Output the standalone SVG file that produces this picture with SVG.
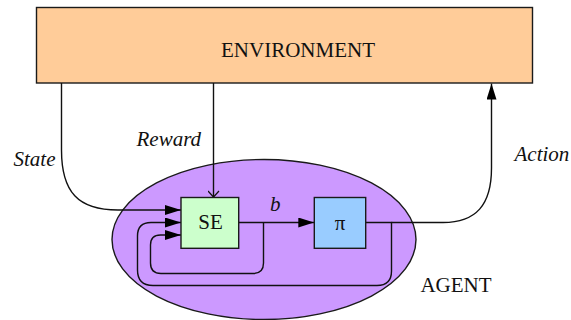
<svg xmlns="http://www.w3.org/2000/svg" width="571" height="320" viewBox="0 0 571 320">
<defs>
<style>
.node{stroke:#1a1a1a;stroke-width:1.4}
text{font-family:'Liberation Serif','Times New Roman',serif;font-size:21px;fill:#111}
.it{font-style:italic}
.edge{fill:none;stroke:#111;stroke-width:1.4}
</style>
<marker id="ah" markerUnits="userSpaceOnUse" viewBox="0 0 16 10" refX="16" refY="5" markerWidth="16" markerHeight="10" orient="auto">
<path d="M0,0 L16,5 L0,10 Z" fill="#000"/>
</marker>
<marker id="open" markerUnits="userSpaceOnUse" viewBox="0 0 8 12" refX="7" refY="6" markerWidth="8" markerHeight="12" orient="auto">
<path d="M1,0.5 L7,6 L1,11.5" fill="none" stroke="#111" stroke-width="1.2"/>
</marker>
</defs>
<rect width="571" height="320" fill="#fff"/>
<g id="agent">
<ellipse class="node" cx="264" cy="239.5" rx="152" ry="80" fill="#CC99FF"/>
<text x="456" y="292" text-anchor="middle">AGENT</text>
</g>
<g id="environment">
<rect class="node" x="36.5" y="7.5" width="496" height="75.5" fill="#FFCC99"/>
<text x="298" y="57" text-anchor="middle">ENVIRONMENT</text>
</g>
<g id="connectors">
<path class="edge" d="M61.5,83 V150 C61.5,192 78,210 118,210 H181" marker-end="url(#ah)"/>
<path class="edge" d="M213.5,83 V197" marker-end="url(#open)"/>
<path class="edge" d="M238.7,222.5 H314.3" marker-end="url(#ah)"/>
<path class="edge" d="M263.5,222.5 V263 Q263.5,273.5 253,273.5 H161 Q150.5,273.5 150.5,263 V245 Q150.5,235 160.5,235 H181" marker-end="url(#ah)"/>
<path class="edge" d="M365.7,222.5 H391.5 V271 Q391.5,285.5 377,285.5 H153 Q137.5,285.5 137.5,270 V236 Q137.5,222.5 151,222.5 H181" marker-end="url(#ah)"/>
<path class="edge" d="M391.5,222.5 H443 C476,222.5 491.5,205 491.5,168 V83.5" marker-end="url(#ah)"/>
<text class="it" x="13.5" y="165.5">State</text>
<text class="it" x="136.5" y="145.5">Reward</text>
<text class="it" x="514.5" y="161">Action</text>
<text class="it" x="270" y="210.5">b</text>
</g>
<g id="se">
<rect class="node" x="181" y="197.5" width="57.7" height="50.8" fill="#CCFFCC"/>
<text x="210.5" y="229" text-anchor="middle">SE</text>
</g>
<g id="pi">
<rect class="node" x="314.3" y="197.5" width="51.4" height="50.8" fill="#99CCFF"/>
<text x="340" y="230" text-anchor="middle">π</text>
</g>
</svg>
